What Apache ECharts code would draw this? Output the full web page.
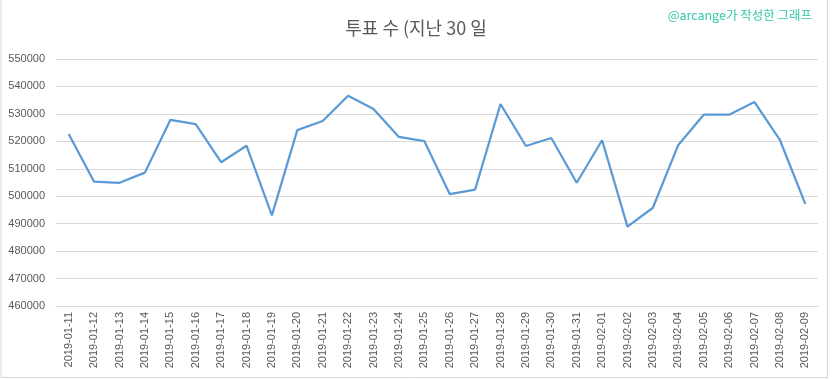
<!DOCTYPE html>
<html><head><meta charset="utf-8">
<script src="https://cdn.jsdelivr.net/npm/echarts@6/dist/echarts.min.js"></script>
<style>html,body{margin:0;padding:0;background:#fff}#c{width:832px;height:379px}</style>
</head><body><div id="c"></div>
<script>
const categories = ["2019-01-11","2019-01-12","2019-01-13","2019-01-14","2019-01-15","2019-01-16","2019-01-17","2019-01-18","2019-01-19","2019-01-20","2019-01-21","2019-01-22","2019-01-23","2019-01-24","2019-01-25","2019-01-26","2019-01-27","2019-01-28","2019-01-29","2019-01-30","2019-01-31","2019-02-01","2019-02-02","2019-02-03","2019-02-04","2019-02-05","2019-02-06","2019-02-07","2019-02-08","2019-02-09"];
const votes = [522700,505300,504900,508600,527800,526300,512400,518400,493000,524100,527400,536600,531800,521600,520100,500800,502400,533600,518300,521200,504900,520400,488900,495800,518700,529700,529700,534300,520500,497200];
const titleText = "투표 수 (지난 30 일";
const watermark = "@arcange가 작성한 그래프";

const chart = echarts.init(document.getElementById('c'));
chart.setOption({
  animation: false,
  backgroundColor: '#fff',
  title: {
    text: titleText, left: 'center', top: 14,
    textStyle: {fontFamily: 'Noto Sans CJK KR', fontSize: 18, fontWeight: 'normal', color: '#595959'}
  },
  graphic: [
    {type: 'text', right: 20, top: 9, style: {text: watermark, fill: '#2fc9a6', font: '12.5px "Noto Sans CJK KR"'}},
    {type: 'line', shape: {x1: 1, y1: 0, x2: 1, y2: 377}, style: {stroke: '#d9d9d9', lineWidth: 1}},
    {type: 'line', shape: {x1: 1, y1: 377.5, x2: 828, y2: 377.5}, style: {stroke: '#d9d9d9', lineWidth: 1}},
    {type: 'line', shape: {x1: 827.5, y1: 0, x2: 827.5, y2: 377}, style: {stroke: '#d9d9d9', lineWidth: 1}}
  ],
  grid: {left: 56, right: 14, top: 59, bottom: 73, containLabel: false},
  xAxis: {
    type: 'category', data: categories, boundaryGap: true,
    axisLine: {lineStyle: {color: '#d9d9d9'}},
    axisTick: {show: false},
    axisLabel: {rotate: 90, interval: 0, color: '#595959', fontSize: 11, fontFamily: 'Liberation Sans', margin: 6}
  },
  yAxis: {
    type: 'value', min: 460000, max: 550000, interval: 10000,
    axisLine: {show: false}, axisTick: {show: false},
    splitLine: {lineStyle: {color: '#d9d9d9'}},
    axisLabel: {color: '#595959', fontSize: 11, fontFamily: 'Liberation Sans', margin: 11, formatter: v => String(v)}
  },
  series: [{
    type: 'line', data: votes, symbol: 'none',
    lineStyle: {color: '#5b9bd5', width: 2.25}
  }]
});
</script></body></html>
